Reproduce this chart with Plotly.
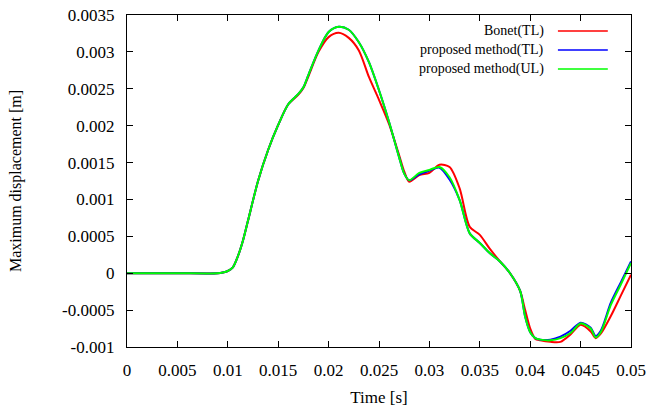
import plotly.graph_objects as go

# Time [s]
time_s = [0, 0.005, 0.009, 0.0095, 0.010, 0.0105, 0.011, 0.0115, 0.012, 0.013,
          0.014, 0.015, 0.016, 0.017, 0.0175, 0.018, 0.019, 0.020, 0.021, 0.022,
          0.023, 0.024, 0.025, 0.026, 0.027, 0.0275, 0.028, 0.029, 0.030, 0.031,
          0.032, 0.033, 0.034, 0.035, 0.036, 0.037, 0.038, 0.039, 0.0395, 0.040,
          0.0405, 0.041, 0.042, 0.043, 0.044, 0.045, 0.046, 0.0465, 0.047, 0.048,
          0.049, 0.050]

# Maximum displacement, in units of 1e-3 m
bonet_tl = [0, 0, 0, 0.01, 0.03,
            0.08, 0.23, 0.44, 0.71, 1.25,
            1.67, 2.01, 2.29, 2.42, 2.51,
            2.67, 3.00, 3.20, 3.26, 3.19,
            3.02, 2.66, 2.35, 2.02, 1.60,
            1.38, 1.24, 1.33, 1.36, 1.47,
            1.44, 1.15, 0.63, 0.52, 0.33,
            0.16, 0.0, -0.24, -0.50, -0.75,
            -0.89, -0.91, -0.93, -0.93, -0.83,
            -0.70, -0.79, -0.88, -0.82, -0.58,
            -0.30, -0.02]

proposed_tl = [0, 0, 0, 0.01, 0.03,
               0.08, 0.23, 0.44, 0.71, 1.25,
               1.67, 2.01, 2.29, 2.43, 2.52,
               2.69, 3.02, 3.27, 3.34, 3.30,
               3.13, 2.86, 2.48, 2.05, 1.57,
               1.35, 1.26, 1.34, 1.39, 1.43,
               1.27, 0.99, 0.54, 0.41, 0.27,
               0.16, 0.0, -0.24, -0.59, -0.80,
               -0.88, -0.90, -0.90, -0.86, -0.78,
               -0.67, -0.74, -0.85, -0.78, -0.40,
               -0.12, 0.16]

proposed_ul = [0, 0, 0, 0.01, 0.03,
               0.08, 0.23, 0.44, 0.71, 1.25,
               1.67, 2.01, 2.29, 2.43, 2.52,
               2.69, 3.02, 3.27, 3.34, 3.30,
               3.13, 2.86, 2.48, 2.05, 1.57,
               1.35, 1.26, 1.36, 1.40, 1.44,
               1.30, 0.99, 0.54, 0.41, 0.27,
               0.16, 0.0, -0.24, -0.59, -0.80,
               -0.88, -0.90, -0.91, -0.88, -0.81,
               -0.68, -0.75, -0.87, -0.80, -0.43,
               -0.15, 0.14]

series_names = ["Bonet(TL)", "proposed method(TL)", "proposed method(UL)"]
series_colors = ["#ff0000", "#0000ff", "#00ff00"]
series_values = [bonet_tl, proposed_tl, proposed_ul]

x_ticks = [0, 0.005, 0.01, 0.015, 0.02, 0.025, 0.03, 0.035, 0.04, 0.045, 0.05]
x_tick_labels = ["0", "0.005", "0.01", "0.015", "0.02", "0.025", "0.03", "0.035", "0.04", "0.045", "0.05"]
y_ticks = [-0.001, -0.0005, 0, 0.0005, 0.001, 0.0015, 0.002, 0.0025, 0.003, 0.0035]
y_tick_labels = ["-0.001", "-0.0005", "0", "0.0005", "0.001", "0.0015", "0.002", "0.0025", "0.003", "0.0035"]

FONT = "Times New Roman, Liberation Serif, DejaVu Serif, serif"

fig = go.Figure()
for name, color, vals in zip(series_names, series_colors, series_values):
    fig.add_trace(go.Scatter(
        x=time_s, y=[v * 1e-3 for v in vals], mode="lines", name=name,
        line=dict(color=color, width=2, shape="spline", smoothing=0.8),
        showlegend=False))

# gnuplot-style key: text right-aligned, sample line to the right
rows_y = [0.952, 0.8946, 0.837]
for name, color, yy in zip(series_names, series_colors, rows_y):
    fig.add_annotation(x=0.831, y=yy, xref="paper", yref="paper", text=name,
                       showarrow=False, xanchor="right", yanchor="middle",
                       font=dict(family=FONT, size=14, color="black"))
    fig.add_shape(type="line", xref="paper", yref="paper", x0=0.855, x1=0.954,
                  y0=yy, y1=yy, line=dict(color=color, width=1.5))

axis_common = dict(showline=True, linecolor="black", linewidth=1.2, mirror="allticks",
                   ticks="inside", ticklen=6, tickcolor="black", showgrid=False,
                   zeroline=False, automargin=False,
                   tickfont=dict(family=FONT, size=17, color="black"))

fig.update_xaxes(range=[0, 0.05], tickvals=x_ticks, ticktext=x_tick_labels,
                 title=dict(text="Time [s]", font=dict(family=FONT, size=17, color="black"), standoff=12),
                 ticklabelstandoff=7, **axis_common)
fig.update_yaxes(range=[-0.001, 0.0035], tickvals=y_ticks, ticktext=y_tick_labels,
                 title=dict(text="Maximum displacement [m]", font=dict(family=FONT, size=16, color="black"), standoff=36),
                 ticklabelstandoff=8, **axis_common)

fig.update_layout(width=649, height=407, margin=dict(l=127, r=18, t=15, b=60, autoexpand=False),
                  plot_bgcolor="white", paper_bgcolor="white",
                  font=dict(family=FONT, color="black"))

fig.write_html("out.html", config={"displayModeBar": False},
               post_script="document.body.style.margin='0';")
